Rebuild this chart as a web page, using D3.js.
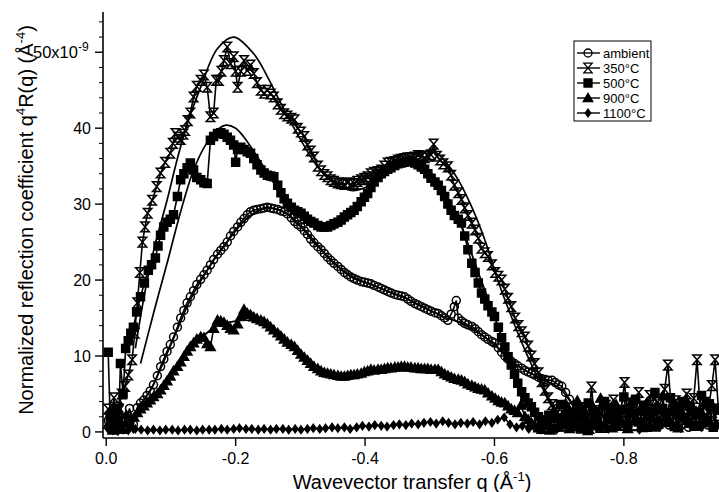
<!DOCTYPE html>
<html>
<head>
<meta charset="utf-8">
<script src="https://cdnjs.cloudflare.com/ajax/libs/d3/7.8.5/d3.min.js"></script>
<style>
  body { margin: 0; background: #fff; }
  svg { font-family: "Liberation Sans", Arial, sans-serif; }
</style>
</head>
<body>
<div id="chart"></div>
<script>
// data: [q, q^4 R(q) in 1e-9 A^-4]
var ambient = [[-0.003,1.5],[-0.012,0.3],[-0.02,2.4],[-0.028,0.5],[-0.036,3.1],[-0.042,1.0],
  [-0.048,3.2],[-0.053,3.8],[-0.058,4.2],[-0.063,4.8],[-0.068,5.4],[-0.073,6.2],[-0.079,7.4],[-0.084,8.6],[-0.089,9.6],[-0.094,10.6],[-0.099,11.5],[-0.104,12.5],[-0.110,13.8],[-0.115,15],[-0.120,16],[-0.125,17],[-0.130,17.8],[-0.135,18.6],[-0.140,19.4],[-0.146,20.1],[-0.151,20.7],[-0.156,21.3],[-0.161,22],[-0.166,22.7],[-0.172,23.4],[-0.177,23.9],[-0.182,24.4],[-0.187,25],[-0.192,25.8],[-0.197,26.4],[-0.203,27.0],[-0.208,27.6],[-0.213,28.1],[-0.218,28.6],[-0.223,29],[-0.228,29.2],[-0.233,29.3],[-0.239,29.4],[-0.244,29.5],[-0.249,29.6],[-0.254,29.5],[-0.259,29.4],[-0.265,29.3],[-0.270,29.1],[-0.275,29.0],[-0.280,28.7],[-0.286,28.2],[-0.291,27.7],[-0.296,27.3],[-0.301,27.0],[-0.306,26.5],[-0.311,26],[-0.316,25.4],[-0.321,24.9],[-0.327,24.4],[-0.332,24],[-0.337,23.5],[-0.342,23],[-0.347,22.6],[-0.352,22.2],[-0.358,21.8],[-0.363,21.4],[-0.368,21],[-0.373,20.7],[-0.378,20.4],[-0.383,20.2],[-0.388,20],[-0.394,19.8],[-0.399,19.7],[-0.404,19.6],[-0.409,19.5],[-0.414,19.3],[-0.420,19.1],[-0.425,18.9],[-0.430,18.7],[-0.435,18.5],[-0.440,18.3],[-0.446,18.1],[-0.451,18],[-0.456,17.9],[-0.461,17.8],[-0.466,17.5],[-0.471,17.2],[-0.477,16.9],[-0.482,16.7],[-0.487,16.5],[-0.492,16.3],[-0.497,16.1],[-0.502,15.9],[-0.508,15.7],[-0.513,15.6],[-0.518,15.3],[-0.523,15],[-0.528,14.7],[-0.533,15.5],[-0.538,16.5],[-0.541,17.3],[-0.544,15],[-0.549,14.6],[-0.554,14.3],[-0.559,14.1],[-0.565,13.9],[-0.570,13.6],[-0.575,13.2],[-0.580,12.8],[-0.585,12.5],[-0.590,12.2],[-0.596,11.9],[-0.600,11.7],[-0.606,11.1],[-0.611,10.5],[-0.616,10],[-0.621,9.6],[-0.626,9.3],[-0.631,9.0],[-0.636,8.7],[-0.642,8.4],[-0.647,8.1],[-0.652,7.9],[-0.657,7.7],[-0.662,7.5],[-0.668,7.2],[-0.673,7.0],[-0.678,6.9],[-0.683,6.8],[-0.689,6.8],[-0.694,6.5],[-0.699,6.2],[-0.704,6.0],[-0.71,5.2],[-0.716,4.3],[-0.722,3.5],[-0.728,2.8],[-0.734,2.1],[-0.74,1.6],[-0.746,1.0],
  [-0.755,2.5],[-0.768,0.8],[-0.781,3.0],[-0.795,1.1],[-0.81,2.2],[-0.828,2.9],[-0.842,0.7],[-0.856,1.9],[-0.87,0.9],[-0.884,2.4],[-0.9,0.6],[-0.915,1.8],[-0.93,0.9],[-0.944,2.0]];

var t350 = [[-0.003,3],[-0.008,1],[-0.012,4.5],[-0.016,2],[-0.019,3],[-0.024,5],[-0.029,6],[-0.034,7.5],[-0.040,9.5],[-0.044,13],[-0.048,17],[-0.052,21],[-0.056,25],[-0.060,27],[-0.064,28.8],[-0.071,30.5],[-0.078,32.3],[-0.084,34.1],[-0.091,35.5],[-0.099,36.7],[-0.103,38],[-0.107,39.3],[-0.111,38.8],[-0.115,38.5],[-0.119,39.2],[-0.122,39.7],[-0.126,41],[-0.130,42],[-0.135,44.1],[-0.140,45.5],[-0.146,46.3],[-0.151,47],[-0.156,45.4],[-0.161,41.5],[-0.166,42],[-0.170,46.3],[-0.174,46.3],[-0.178,47.5],[-0.182,48.9],[-0.187,50.7],[-0.192,48.5],[-0.197,49.4],[-0.200,47.5],[-0.203,45.4],[-0.208,47.5],[-0.213,48.9],[-0.218,47.6],[-0.223,48.3],[-0.228,47.2],[-0.233,46],[-0.239,45.0],[-0.244,44.6],[-0.249,45.0],[-0.254,44.5],[-0.259,44.1],[-0.265,43.2],[-0.270,42.5],[-0.275,41.9],[-0.280,41.6],[-0.286,41.3],[-0.291,41.1],[-0.296,40],[-0.301,39.5],[-0.306,38.9],[-0.311,37.8],[-0.316,37],[-0.321,36.2],[-0.327,35],[-0.332,34.4],[-0.337,33.9],[-0.342,33.6],[-0.347,33.2],[-0.352,33],[-0.358,32.8],[-0.363,32.7],[-0.368,32.6],[-0.373,32.8],[-0.378,32.6],[-0.383,32.7],[-0.388,33],[-0.394,33.2],[-0.399,33.4],[-0.404,33.6],[-0.409,34],[-0.414,34.2],[-0.420,34.3],[-0.425,34.5],[-0.430,35],[-0.435,35.4],[-0.440,35.5],[-0.446,35.6],[-0.451,35.8],[-0.456,35.9],[-0.461,36],[-0.466,36.1],[-0.471,36.1],[-0.477,36.2],[-0.482,36.4],[-0.487,36.3],[-0.492,36.1],[-0.497,36.3],[-0.502,36.5],[-0.506,37.9],[-0.511,36.3],[-0.516,35.8],[-0.521,35.3],[-0.528,34.9],[-0.533,33.8],[-0.538,32.5],[-0.544,31.5],[-0.549,30.6],[-0.554,29.5],[-0.559,28.5],[-0.565,27.5],[-0.570,26.6],[-0.575,25.5],[-0.580,24.2],[-0.585,23.6],[-0.590,23.1],[-0.596,22],[-0.601,21],[-0.606,20.5],[-0.611,20.0],[-0.616,18.8],[-0.621,17.6],[-0.626,16.5],[-0.632,15],[-0.637,14],[-0.642,13.2],[-0.647,12.5],[-0.652,11.3],[-0.657,10],[-0.662,9.0],[-0.668,7.8],[-0.673,6.6],[-0.678,5.5],[-0.683,4.5],[-0.689,3.6],[-0.694,2.9],[-0.700,2.2],[-0.705,1.7],[-0.710,1.4],[-0.715,1.2],
  [-0.72,2.5],[-0.726,0.8],[-0.732,3.2],[-0.738,1.5],[-0.744,0.3],[-0.750,5.9],[-0.755,1.2],[-0.761,2.8],[-0.767,0.6],[-0.772,3.5],[-0.778,1.8],[-0.784,4.2],[-0.79,0.9],[-0.795,2.6],[-0.801,6.5],[-0.806,1.4],[-0.812,3.8],[-0.818,2.1],[-0.823,5.2],[-0.829,0.7],[-0.835,3.3],[-0.84,4.8],[-0.846,1.5],[-0.852,3.9],[-0.857,2.2],[-0.863,5.6],[-0.868,8.8],[-0.874,2.4],[-0.88,4.1],[-0.885,1.1],[-0.891,3.6],[-0.897,5.0],[-0.902,2.3],[-0.908,4.4],[-0.913,9.5],[-0.919,1.8],[-0.925,3.9],[-0.93,2.6],[-0.936,6.1],[-0.941,9.5],[-0.946,3.0]];

var t500 = [[-0.003,10.5],[-0.006,2],[-0.01,0.5],[-0.015,3],[-0.019,1],[-0.022,9.0],[-0.026,5],[-0.03,11],[-0.034,12],[-0.038,13],[-0.042,13.8],[-0.047,15.8],[-0.053,17.8],[-0.059,19.6],[-0.065,21.3],[-0.070,22],[-0.076,22.9],[-0.080,24.5],[-0.084,25.9],[-0.089,27],[-0.094,27.6],[-0.099,28],[-0.104,28.6],[-0.110,31],[-0.115,33.2],[-0.120,34],[-0.125,34.8],[-0.130,35.4],[-0.135,34.5],[-0.140,33.5],[-0.146,33.2],[-0.151,32.8],[-0.156,32.7],[-0.161,38.4],[-0.166,38.9],[-0.172,39.3],[-0.177,39.4],[-0.182,39.2],[-0.187,38.8],[-0.192,38.4],[-0.197,37.8],[-0.200,35.5],[-0.203,37.2],[-0.208,37.5],[-0.213,37.2],[-0.218,36.9],[-0.223,36.7],[-0.228,36],[-0.233,35.2],[-0.239,34.5],[-0.244,34.1],[-0.249,33.8],[-0.254,33.7],[-0.259,33.6],[-0.265,32.5],[-0.270,31.5],[-0.275,30.7],[-0.280,30.1],[-0.286,29.6],[-0.291,29.2],[-0.296,29],[-0.301,28.8],[-0.306,28.4],[-0.311,28],[-0.316,27.7],[-0.321,27.5],[-0.327,27.2],[-0.332,27],[-0.337,27],[-0.342,27.0],[-0.347,27.2],[-0.352,27.4],[-0.358,27.6],[-0.363,27.9],[-0.368,28.3],[-0.373,28.6],[-0.378,28.9],[-0.383,29.2],[-0.388,29.7],[-0.394,30.3],[-0.399,30.9],[-0.404,31.4],[-0.409,32.2],[-0.414,32.9],[-0.420,33.5],[-0.425,34.0],[-0.430,34.3],[-0.435,34.6],[-0.440,34.8],[-0.446,35.1],[-0.451,35.3],[-0.456,35.4],[-0.461,35.5],[-0.466,35.6],[-0.471,35.6],[-0.477,35.4],[-0.482,35.2],[-0.487,34.9],[-0.492,34.6],[-0.497,34.0],[-0.502,33.4],[-0.508,32.9],[-0.513,32.5],[-0.518,31.8],[-0.523,31],[-0.528,30],[-0.533,29.2],[-0.538,28.5],[-0.544,28],[-0.549,27.5],[-0.554,25.8],[-0.559,24],[-0.565,22.2],[-0.570,21],[-0.575,19.6],[-0.580,18.3],[-0.585,17.5],[-0.590,16.6],[-0.596,15.8],[-0.600,15.2],[-0.606,13.8],[-0.611,12.4],[-0.616,11.2],[-0.621,9.9],[-0.626,8.8],[-0.631,7.6],[-0.636,6.4],[-0.642,5.3],[-0.647,4.5],[-0.652,3.8],[-0.657,3.3],[-0.662,2.6],[-0.668,2.0],[-0.673,1.6],[-0.678,1.2],
  [-0.684,2.2],[-0.69,0.5],[-0.696,1.8],[-0.702,3.6],[-0.708,0.9],[-0.714,2.4],[-0.72,1.0],[-0.727,3.0],[-0.733,0.4],[-0.739,2.0],[-0.745,3.8],[-0.751,1.1],[-0.757,2.7],[-0.763,0.5],[-0.77,4.0],[-0.776,1.6],[-0.782,3.2],[-0.788,0.8],[-0.794,2.9],[-0.80,4.6],[-0.806,0.9],[-0.812,2.5],[-0.818,4.3],[-0.824,1.3],[-0.83,3.5],[-0.836,0.6],[-0.842,2.7],[-0.848,5.2],[-0.854,1.0],[-0.86,3.1],[-0.866,2.0],[-0.872,4.5],[-0.878,0.7],[-0.884,2.8],[-0.89,4.0],[-0.896,1.5],[-0.902,3.4],[-0.908,0.8],[-0.914,2.6],[-0.92,4.8],[-0.926,1.2],[-0.932,3.7],[-0.938,0.6],[-0.944,2.9]];

var t900 = [[-0.003,1],[-0.01,0.2],[-0.017,1.6],[-0.024,0.3],[-0.031,2.2],[-0.038,0.8],[-0.043,1.9],
  [-0.048,2.5],[-0.053,3],[-0.058,3.4],[-0.063,3.8],[-0.068,4.2],[-0.073,4.6],[-0.079,5.0],[-0.084,5.5],[-0.089,6.1],[-0.094,6.7],[-0.099,7.3],[-0.104,8.0],[-0.110,8.6],[-0.115,9.2],[-0.120,9.9],[-0.125,10.6],[-0.130,11.2],[-0.135,11.7],[-0.140,12.2],[-0.146,12.5],[-0.151,12.4],[-0.156,11.6],[-0.161,11.2],[-0.166,13.6],[-0.172,14.7],[-0.177,14.6],[-0.182,14.4],[-0.187,14],[-0.192,13.6],[-0.197,13.4],[-0.203,14.2],[-0.208,15.2],[-0.213,16.1],[-0.218,15.6],[-0.223,15.4],[-0.228,15.1],[-0.233,14.9],[-0.239,14.7],[-0.244,14.5],[-0.249,14.2],[-0.254,13.8],[-0.259,13.4],[-0.265,13.0],[-0.270,12.6],[-0.275,12.2],[-0.280,11.8],[-0.286,11.5],[-0.291,11.2],[-0.296,10.7],[-0.301,10.2],[-0.306,9.8],[-0.311,9.4],[-0.316,9.0],[-0.321,8.6],[-0.327,8.3],[-0.332,8.0],[-0.337,7.8],[-0.342,7.7],[-0.347,7.6],[-0.352,7.5],[-0.358,7.4],[-0.363,7.3],[-0.368,7.3],[-0.373,7.4],[-0.378,7.5],[-0.383,7.5],[-0.388,7.6],[-0.394,7.7],[-0.399,7.9],[-0.404,8.0],[-0.409,8.2],[-0.414,8.1],[-0.420,8.2],[-0.425,8.2],[-0.430,8.3],[-0.435,8.4],[-0.440,8.4],[-0.446,8.5],[-0.451,8.5],[-0.456,8.6],[-0.461,8.6],[-0.466,8.5],[-0.471,8.5],[-0.477,8.4],[-0.482,8.4],[-0.487,8.3],[-0.492,8.3],[-0.497,8.3],[-0.502,8.2],[-0.508,8.2],[-0.513,8.2],[-0.518,7.9],[-0.523,7.6],[-0.528,7.4],[-0.533,7.2],[-0.538,7.0],[-0.544,6.9],[-0.549,6.8],[-0.554,6.6],[-0.559,6.3],[-0.565,6.1],[-0.570,5.9],[-0.575,5.7],[-0.580,5.6],[-0.585,5.5],[-0.590,5.1],[-0.596,4.7],[-0.601,4.4],[-0.606,4.1],[-0.611,3.9],[-0.616,3.8],[-0.621,3.4],[-0.626,3.0],[-0.631,2.8],[-0.636,2.5],[-0.641,3.5],[-0.647,2.0],[-0.652,1.6],[-0.657,1.2],[-0.662,0.9],[-0.668,0.5],[-0.673,0.3],
  [-0.68,1.5],[-0.686,0.2],[-0.692,2.8],[-0.698,0.6],[-0.704,1.9],[-0.71,3.7],[-0.716,0.4],[-0.722,2.2],[-0.728,4.1],[-0.734,1.0],[-0.74,2.6],[-0.746,0.3],[-0.752,3.3],[-0.758,1.7],[-0.764,4.4],[-0.77,0.9],[-0.776,2.5],[-0.782,0.5],[-0.788,3.6],[-0.794,1.8],[-0.80,2.9],[-0.806,0.4],[-0.812,4.0],[-0.818,1.5],[-0.824,2.7],[-0.83,0.8],[-0.836,3.9],[-0.842,1.9],[-0.848,0.6],[-0.854,3.2],[-0.86,4.7],[-0.866,1.2],[-0.872,2.6],[-0.878,3.8],[-0.884,0.5],[-0.89,2.3],[-0.896,4.2],[-0.902,1.1],[-0.908,3.0],[-0.914,0.7],[-0.92,2.4],[-0.926,4.0],[-0.932,1.4],[-0.938,3.3],[-0.944,0.9]];

var t1100 = [[-0.002,0.5],[-0.006,2.8],[-0.010,0.2],[-0.014,1.5],[-0.018,0.1],[-0.022,3.5],[-0.026,0.3],[-0.030,1.2],[-0.034,0.2],[-0.038,2.0],[-0.042,0.4],
  [-0.045,0.4],[-0.054,0.3],[-0.064,0.2],[-0.073,0.3],[-0.083,0.2],[-0.092,0.3],[-0.102,0.3],[-0.111,0.2],[-0.121,0.3],[-0.130,0.3],[-0.140,0.2],[-0.149,0.3],[-0.159,0.3],[-0.168,0.3],[-0.178,0.4],[-0.187,0.3],[-0.197,0.4],[-0.206,0.5],[-0.216,0.4],[-0.225,0.4],[-0.235,0.3],[-0.244,0.4],[-0.254,0.3],[-0.263,0.4],[-0.273,0.4],[-0.282,0.3],[-0.292,0.4],[-0.301,0.3],[-0.311,0.4],[-0.320,0.5],[-0.330,0.4],[-0.339,0.5],[-0.349,0.6],[-0.358,0.5],[-0.368,0.6],[-0.377,0.4],[-0.387,0.6],[-0.396,0.8],[-0.406,0.7],[-0.415,0.9],[-0.425,0.8],[-0.434,0.7],[-0.444,0.9],[-0.453,1.0],[-0.463,0.9],[-0.472,1.1],[-0.482,1.0],[-0.491,1.2],[-0.501,1.3],[-0.510,1.1],[-0.520,1.4],[-0.529,1.2],[-0.539,1.0],[-0.548,1.2],[-0.558,1.1],[-0.567,1.3],[-0.577,1.0],[-0.586,1.4],[-0.596,1.2],[-0.605,1.6],[-0.615,1.9],[-0.624,1.0],[-0.634,0.6],[-0.643,0.8],[-0.653,0.4],[-0.662,0.6],[-0.672,0.3],
  [-0.68,0.8],[-0.688,2.1],[-0.696,0.3],[-0.704,1.4],[-0.712,2.9],[-0.72,0.6],[-0.728,1.8],[-0.736,3.1],[-0.744,0.5],[-0.752,2.0],[-0.76,1.2],[-0.768,3.4],[-0.776,0.4],[-0.784,1.7],[-0.792,2.6],[-0.80,0.9],[-0.808,3.0],[-0.816,1.3],[-0.824,0.3],[-0.832,2.4],[-0.84,1.6],[-0.848,3.3],[-0.856,0.7],[-0.864,2.2],[-0.872,1.0],[-0.88,3.5],[-0.888,0.5],[-0.896,2.0],[-0.904,1.1],[-0.912,2.8],[-0.92,0.6],[-0.928,1.9],[-0.936,3.2],[-0.944,0.8]];

// model fits (solid lines)
var fit350 = [[-0.045,11],[-0.06,18.5],[-0.075,24.5],[-0.094,30.5],[-0.11,36],[-0.125,40.5],[-0.146,45.4],[-0.172,50.5],[-0.197,52.0],[-0.228,49.8],[-0.249,46.8],[-0.275,42.4],[-0.301,38.4],[-0.327,34.9],[-0.352,32.9],[-0.378,31.8],[-0.404,32.3],[-0.435,34],[-0.461,35.8],[-0.485,36.8],[-0.507,36.9],[-0.525,35.5],[-0.544,33.2],[-0.565,29.6],[-0.585,25.3],[-0.605,20.0],[-0.626,15.2],[-0.647,10.8],[-0.668,6.9],[-0.689,3.3],[-0.710,1.2],[-0.74,0.5],[-0.78,0.3],[-0.84,0.2]];
var fit500 = [[-0.053,9],[-0.073,15.6],[-0.094,22.2],[-0.115,29],[-0.135,34.5],[-0.155,38],[-0.172,39.8],[-0.185,40.4],[-0.2,40],[-0.213,38.8],[-0.239,35.5],[-0.265,32],[-0.291,29],[-0.316,27.2],[-0.342,26.5],[-0.368,27.6],[-0.394,30],[-0.42,33],[-0.446,35],[-0.471,35.8],[-0.497,34.6],[-0.523,31.5],[-0.549,27],[-0.575,21],[-0.600,15.2],[-0.621,10.2],[-0.642,5.8],[-0.662,2.6],[-0.683,0.9],[-0.72,0.4],[-0.78,0.3],[-0.82,0.2]];
var fitAmb = [[-0.048,3],[-0.07,5.8],[-0.1,11.5],[-0.13,17.4],[-0.16,21.8],[-0.19,25.4],[-0.22,28.3],[-0.25,29.5],[-0.28,28.7],[-0.31,26.3],[-0.34,23.3],[-0.37,21],[-0.40,19.7],[-0.43,18.7],[-0.46,17.7],[-0.49,16.5],[-0.52,15.2],[-0.55,14.3],[-0.58,12.8],[-0.61,10.7],[-0.64,8.5],[-0.67,7.1],[-0.70,5.8],[-0.73,2.6],[-0.76,0.8],[-0.8,0.3]];
var fit900 = [[-0.048,2.3],[-0.08,5.2],[-0.11,8.6],[-0.14,11.8],[-0.17,13.9],[-0.2,14.6],[-0.23,14.6],[-0.26,13.4],[-0.29,11.3],[-0.32,9],[-0.35,7.6],[-0.38,7.4],[-0.41,7.9],[-0.44,8.3],[-0.47,8.4],[-0.50,8.2],[-0.53,7.3],[-0.56,6.3],[-0.59,5.1],[-0.62,3.4],[-0.65,1.6],[-0.68,0.4],[-0.72,0.1]];

var legendNames = ["ambient", "350°C", "500°C", "900°C", "1100°C"];
var xTicks = [0, -0.2, -0.4, -0.6, -0.8];
var yTicks = [0, 10, 20, 30, 40, 50];

var width = 719, height = 492;

var svg = d3.select('#chart')
    .append('svg')
    .attr('width', width)
    .attr('height', height);

var x = d3.scaleLinear().domain([0.005, -0.947]).range([103, 719]);
var y = d3.scaleLinear().domain([-0.8, 55.3]).range([438, 12]);

// marker shapes
function markerPath(kind) {
    if (kind == 0) return d3.symbol().type(d3.symbolCircle).size(50)();
    if (kind == 1) return "M-4.2,-4.8L4.2,-4.8L-4.2,4.8L4.2,4.8Z";
    if (kind == 2) return "M-4,-4H4V4H-4Z";
    if (kind == 3) return "M0,-4.8L4.8,3.6L-4.8,3.6Z";
    return "M0,-3.8L2.8,0L0,3.8L-2.8,0Z";
}
function markerFill(kind) {
    if (kind == 0 || kind == 1) return "none";
    return "black";
}

var line = d3.line().x(function(d) { return x(d[0]); }).y(function(d) { return y(d[1]); });
var smooth = d3.line().curve(d3.curveCatmullRom).x(function(d) { return x(d[0]); }).y(function(d) { return y(d[1]); });

var series = [
    {data: t1100, kind: 4},
    {data: t900, kind: 3},
    {data: ambient, kind: 0},
    {data: t500, kind: 2},
    {data: t350, kind: 1}
];

var plot = svg.append("g");

series.forEach(function(s) {
    plot.append("path")
        .attr("d", line(s.data))
        .attr("fill", "none")
        .attr("stroke", "black")
        .attr("stroke-width", 1.6);
    plot.selectAll(null)
        .data(s.data)
        .enter().append("path")
        .attr("transform", function(d) { return "translate(" + x(d[0]) + "," + y(d[1]) + ")"; })
        .attr("d", markerPath(s.kind))
        .attr("fill", markerFill(s.kind))
        .attr("stroke", "black")
        .attr("stroke-width", 1.5);
});

[fit350, fit500, fitAmb, fit900].forEach(function(f) {
    plot.append("path")
        .attr("d", smooth(f))
        .attr("fill", "none")
        .attr("stroke", "black")
        .attr("stroke-width", 1.7);
});

// axes
var axes = svg.append("g").attr("stroke", "black");
axes.append("line").attr("x1", 103).attr("x2", 103).attr("y1", 12).attr("y2", 438).attr("stroke-width", 1.6);
axes.append("line").attr("x1", 103).attr("x2", 719).attr("y1", 438).attr("y2", 438).attr("stroke-width", 1.6);

axes.selectAll(".ymin")
    .data(d3.range(2, 55, 2).filter(function(v) { return v % 10 != 0; }))
    .enter().append("line")
    .attr("x1", 99).attr("x2", 103)
    .attr("y1", function(d) { return y(d); }).attr("y2", function(d) { return y(d); });

axes.selectAll(".ymaj")
    .data(yTicks)
    .enter().append("line")
    .attr("x1", 95).attr("x2", 103)
    .attr("y1", function(d) { return y(d); }).attr("y2", function(d) { return y(d); })
    .attr("stroke-width", 1.4);

axes.selectAll(".xmaj")
    .data(xTicks)
    .enter().append("line")
    .attr("x1", function(d) { return x(d); }).attr("x2", function(d) { return x(d); })
    .attr("y1", 438).attr("y2", 446)
    .attr("stroke-width", 1.4);

svg.selectAll(".xlab")
    .data(xTicks)
    .enter().append("text")
    .attr("x", function(d) { return x(d); })
    .attr("y", 464)
    .attr("text-anchor", "middle")
    .attr("font-size", 16)
    .text(function(d) { return d3.format(".1f")(d).replace("−", "-"); });

svg.selectAll(".ylab")
    .data(yTicks.filter(function(v) { return v != 50; }))
    .enter().append("text")
    .attr("x", 91)
    .attr("y", function(d) { return y(d) + 6; })
    .attr("text-anchor", "end")
    .attr("font-size", 16)
    .text(function(d) { return d; });

var topLabel = svg.append("text")
    .attr("x", 33)
    .attr("y", y(50) + 6)
    .attr("font-size", 16.5);
topLabel.append("tspan").text("50x10");
topLabel.append("tspan").attr("dy", -7).attr("font-size", 12).text("-9");

// axis titles
var xt = svg.append("text")
    .attr("x", 412)
    .attr("y", 489)
    .attr("text-anchor", "middle")
    .attr("font-size", 20);
xt.append("tspan").text("Wavevector transfer q (Å");
xt.append("tspan").attr("dy", -8).attr("font-size", 13).text("-1");
xt.append("tspan").attr("dy", 8).text(")");

var yt = svg.append("text")
    .attr("transform", "translate(33,220) rotate(-90)")
    .attr("text-anchor", "middle")
    .attr("font-size", 20);
yt.append("tspan").text("Normalized reflection coefficient q");
yt.append("tspan").attr("dy", -8).attr("font-size", 13).text("4");
yt.append("tspan").attr("dy", 8).text("R(q) (Å");
yt.append("tspan").attr("dy", -8).attr("font-size", 13).text("-4");
yt.append("tspan").attr("dy", 8).text(")");

// legend
var legend = svg.append("g");
legend.append("rect")
    .attr("x", 574).attr("y", 41)
    .attr("width", 77).attr("height", 80)
    .attr("fill", "white")
    .attr("stroke", "black");

var legendKinds = [0, 1, 2, 3, 4];
var item = legend.selectAll(".item")
    .data(legendNames)
    .enter().append("g")
    .attr("transform", function(d, i) { return "translate(0," + (53 + i * 15) + ")"; });
item.append("line")
    .attr("x1", 577).attr("x2", 600)
    .attr("stroke", "black").attr("stroke-width", 1.4);
item.append("path")
    .attr("transform", "translate(588,0)")
    .attr("d", function(d, i) { return markerPath(legendKinds[i]); })
    .attr("fill", function(d, i) { return markerFill(legendKinds[i]); })
    .attr("stroke", "black")
    .attr("stroke-width", 1.3);
item.append("text")
    .attr("x", 603).attr("y", 4.5)
    .attr("font-size", 13)
    .text(function(d) { return d; });
</script>
</body>
</html>
